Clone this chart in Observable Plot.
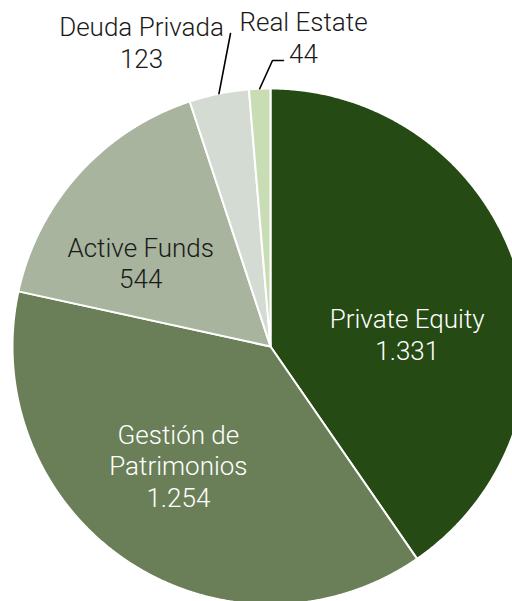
<!DOCTYPE html>
<html>
<head>
<meta charset="utf-8">
<script src="https://cdn.jsdelivr.net/npm/d3@7"></script>
<script src="https://cdn.jsdelivr.net/npm/@observablehq/plot@0.6"></script>
<style>
  html, body { margin: 0; padding: 0; background: #fff; }
  #chart svg { display: block; }
</style>
</head>
<body>
<div id="chart"></div>
<script>
// ---- data ----
const categories = ["Private Equity", "Gestión de Patrimonios", "Active Funds", "Deuda Privada", "Real Estate"];
const labelNames = ["Private Equity", "Gestión de\nPatrimonios", "Active Funds", "Deuda Privada", "Real Estate"];
const values = [1331, 1254, 544, 123, 44];
const colors = ["#264a14", "#6a7f58", "#a8b49e", "#d3dbd3", "#c8ddb4"];
const labelColors = ["#ffffff", "#ffffff", "#1a1a1a", "#1a1a1a", "#1a1a1a"];

// ---- layout (pixels, relative to pie centre) ----
const R = 258;
const CX = 270, CY = 346, W = 512, H = 601;
const insideR = 0.62 * R;
// nudges of inside labels from their centroid
const insideNudge = {"Private Equity": [-16, 35], "Gestión de Patrimonios": [-3, -14], "Active Funds": [-11, 23]};
// outside labels: leader elbow(s) and label position
const outside = {
  "Deuda Privada": {path: [[-40, -313]], label: [-129, -305]},
  "Real Estate": {path: [[2, -286], [13, -286]], label: [33, -310]}
};

const esFmt = d3.formatLocale({decimal: ",", thousands: ".", grouping: [3], currency: ["", "€"]}).format(",d");
const data = categories.map((c, i) => ({name: c, label: labelNames[i], value: values[i], color: colors[i], tcolor: labelColors[i]}));
const arcs = d3.pie().sort(null).value(d => d.value).startAngle(0).endAngle(2 * Math.PI)(data);
const polar = (a, r) => [r * Math.sin(a), -r * Math.cos(a)];

// slice polygons
const sliceRows = [];
for (const a of arcs) {
  sliceRows.push({name: a.data.name, x: 0, y: 0});
  const n = Math.max(2, Math.ceil((a.endAngle - a.startAngle) / (Math.PI / 720)));
  for (let k = 0; k <= n; k++) {
    const t = a.startAngle + (a.endAngle - a.startAngle) * k / n;
    const [x, y] = polar(t, R);
    sliceRows.push({name: a.data.name, x, y});
  }
}

// labels
const textRows = [];
const leaderRows = [];
for (const a of arcs) {
  const mid = (a.startAngle + a.endAngle) / 2;
  const txt = a.data.label + "\n" + esFmt(a.data.value);
  if (insideNudge[a.data.name]) {
    const [x, y] = polar(mid, insideR);
    const [nx, ny] = insideNudge[a.data.name];
    textRows.push({x: x + nx, y: y + ny, text: txt, fill: a.data.tcolor});
  } else {
    const o = outside[a.data.name];
    const [ex, ey] = polar(mid, R);
    leaderRows.push({name: a.data.name, x: ex, y: ey});
    for (const p of o.path) leaderRows.push({name: a.data.name, x: p[0], y: p[1]});
    textRows.push({x: o.label[0], y: o.label[1], text: txt, fill: a.data.tcolor});
  }
}

const chart = Plot.plot({
  width: W,
  height: H,
  margin: 0,
  style: {fontFamily: "Roboto, 'Noto Sans', sans-serif", background: "#ffffff"},
  x: {domain: [-CX, W - CX], range: [0, W], axis: null},
  y: {domain: [-CY, H - CY], range: [0, H], axis: null},
  color: {domain: categories, range: colors},
  marks: [
    Plot.line(sliceRows, {x: "x", y: "y", z: "name", fill: "name", stroke: "#ffffff", strokeWidth: 2, strokeLinejoin: "round", curve: "linear-closed"}),
    Plot.line(leaderRows, {x: "x", y: "y", z: "name", stroke: "#000000", strokeWidth: 1.6}),
    Plot.text(textRows, {x: "x", y: "y", text: "text", fill: "fill", fontSize: 26, fontWeight: 300, lineHeight: 1.22, textAnchor: "middle", lineAnchor: "middle"})
  ]
});
document.getElementById("chart").appendChild(chart);
</script>
</body>
</html>
